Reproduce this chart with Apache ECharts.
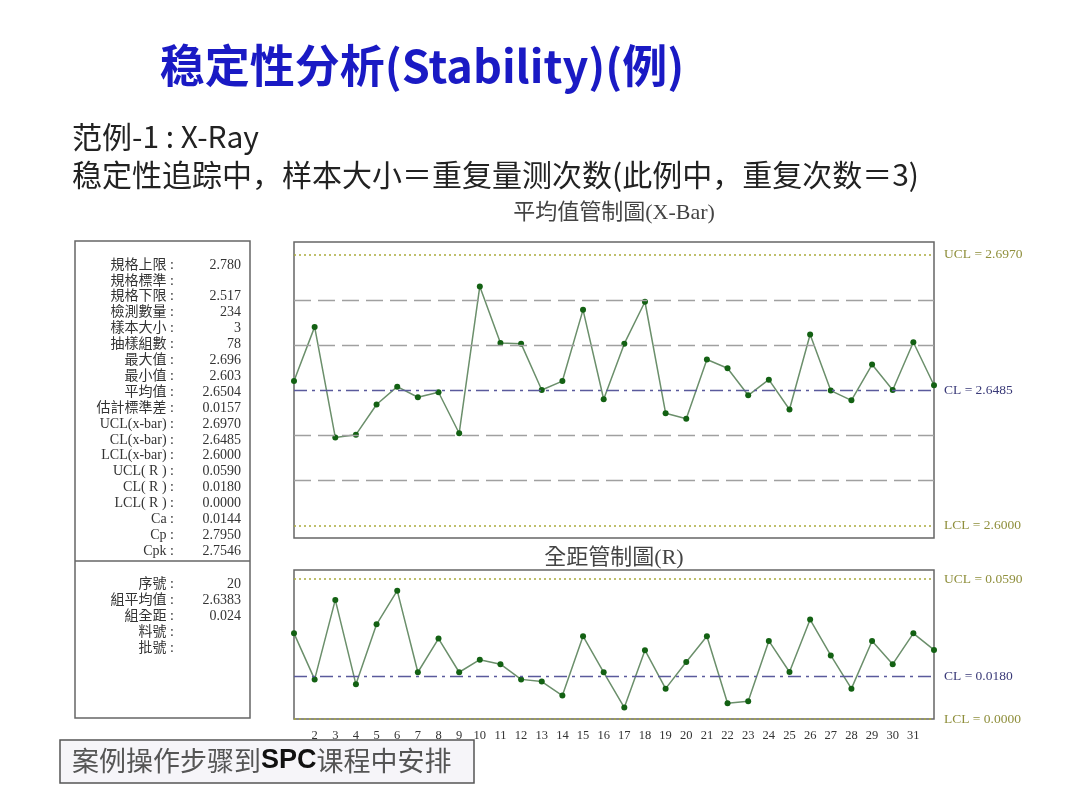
<!DOCTYPE html>
<html>
<head>
<meta charset="utf-8">
<script src="https://cdn.jsdelivr.net/npm/echarts@6/dist/echarts.min.js"></script>
<style>
  html, body { margin: 0; padding: 0; background: #fff; }
  #main { width: 1080px; height: 810px; }
</style>
</head>
<body>
<div id="main"></div>
<script>
// group numbers shown on the x axis (1 and 32 sit on the plot edges)
var groupNo = [1, 2, 3, 4, 5, 6, 7, 8, 9, 10, 11, 12, 13, 14, 15, 16,
  17, 18, 19, 20, 21, 22, 23, 24, 25, 26, 27, 28, 29, 30, 31, 32];

// group means (X-Bar)
var xbarValues = [2.6518, 2.6712, 2.6316, 2.6326, 2.6434, 2.6498, 2.6460, 2.6478,
  2.6331, 2.6857, 2.6654, 2.6652, 2.6486, 2.6518, 2.6773, 2.6453,
  2.6652, 2.6802, 2.6403, 2.6383, 2.6595, 2.6564, 2.6467, 2.6523,
  2.6416, 2.6685, 2.6484, 2.6449, 2.6577, 2.6486, 2.6657, 2.6503];

// group ranges (R)
var rangeValues = [0.0361, 0.0167, 0.0502, 0.0146, 0.0399, 0.0541, 0.0197, 0.0339,
  0.0197, 0.0250, 0.0231, 0.0167, 0.0158, 0.0099, 0.0349, 0.0197,
  0.0048, 0.0290, 0.0128, 0.0240, 0.0349, 0.0066, 0.0075, 0.0329,
  0.0198, 0.0419, 0.0268, 0.0128, 0.0329, 0.0231, 0.0361, 0.0291];

// control limits: [UCL, CL, LCL]
var xbarLimits = [2.6970, 2.6485, 2.6000];
var rangeLimits = [0.0590, 0.0180, 0.0000];
// 1 and 2 sigma zone lines of the X-Bar chart
var xbarZones = [2.6808, 2.6647, 2.6323, 2.6162];

// left statistics panel
var statLabels = ['規格上限', '規格標準', '規格下限', '檢測數量', '樣本大小', '抽樣組數', '最大值', '最小值',
  '平均值', '估計標準差', 'UCL(x-bar)', 'CL(x-bar)', 'LCL(x-bar)', 'UCL( R )', 'CL( R )', 'LCL( R )',
  'Ca', 'Cp', 'Cpk'];
var statValues = ['2.780', '', '2.517', '234', '3', '78', '2.696', '2.603',
  '2.6504', '0.0157', '2.6970', '2.6485', '2.6000', '0.0590', '0.0180', '0.0000',
  '0.0144', '2.7950', '2.7546'];
var pointLabels = ['序號', '組平均值', '組全距', '料號', '批號'];
var pointValues = ['20', '2.6383', '0.024', '', ''];

var serif = '"Liberation Serif", "Noto Sans CJK TC", serif';
var sans = '"Noto Sans CJK SC", "Noto Sans", sans-serif';

var chart = echarts.init(document.getElementById('main'));

function toPairs(vals) {
  return groupNo.map(function (g, i) { return [g, vals[i]]; });
}

function limitLines(limits, labels, zones) {
  var out = [];
  var limColor = '#aaaa3c', clColor = '#5a5a9c';
  out.push({ yAxis: limits[0], lineStyle: { color: limColor, type: [2, 3], width: 1.5 },
    label: { show: true, formatter: labels[0] + ' = ' + limits[0].toFixed(4), color: '#8f8f3c' } });
  out.push({ yAxis: limits[1], lineStyle: { color: clColor, type: [13, 5, 3, 5], width: 1.3 },
    label: { show: true, formatter: labels[1] + ' = ' + limits[1].toFixed(4), color: '#3a3a78' } });
  out.push({ yAxis: limits[2], lineStyle: { color: limColor, type: [2, 3], width: 1.5 },
    label: { show: true, formatter: labels[2] + ' = ' + limits[2].toFixed(4), color: '#8f8f3c' } });
  (zones || []).forEach(function (z) {
    out.push({ yAxis: z, lineStyle: { color: '#a0a0a0', type: [17, 7], width: 1.4 }, label: { show: false } });
  });
  return out;
}

// panel texts
var panelFont = '14px ' + serif;
var panelTexts = [];
statLabels.forEach(function (t, i) {
  panelTexts.push({ type: 'text', style: { x: 174, y: 265 + i * 15.9, text: t + ' :', align: 'right',
    verticalAlign: 'middle', font: panelFont, fill: '#333' } });
  panelTexts.push({ type: 'text', style: { x: 241, y: 265 + i * 15.9, text: statValues[i], align: 'right',
    verticalAlign: 'middle', font: panelFont, fill: '#333' } });
});
pointLabels.forEach(function (t, i) {
  panelTexts.push({ type: 'text', style: { x: 174, y: 584 + i * 16, text: t + ' :', align: 'right',
    verticalAlign: 'middle', font: panelFont, fill: '#333' } });
  panelTexts.push({ type: 'text', style: { x: 241, y: 584 + i * 16, text: pointValues[i], align: 'right',
    verticalAlign: 'middle', font: panelFont, fill: '#333' } });
});

var option = {
  backgroundColor: '#fff',
  animation: false,
  graphic: [
    { type: 'text', style: { x: 422, y: 66, text: '稳定性分析(Stability)(例)', align: 'center',
      verticalAlign: 'middle', font: 'bold 45px ' + sans, fill: '#1a1ac4' } },
    { type: 'text', style: { x: 72, y: 137, text: '范例-1 : X-Ray', align: 'left',
      verticalAlign: 'middle', font: '30px ' + sans, fill: '#222' } },
    { type: 'text', style: { x: 72, y: 175, text: '稳定性追踪中，样本大小＝重复量测次数(此例中，重复次数＝3)', align: 'left',
      verticalAlign: 'middle', font: '30px ' + sans, fill: '#222' } },
    { type: 'text', style: { x: 614, y: 213, text: '平均值管制圖(X-Bar)', align: 'center',
      verticalAlign: 'middle', font: '22px ' + serif, fill: '#444' } },
    { type: 'text', style: { x: 614, y: 558, text: '全距管制圖(R)', align: 'center',
      verticalAlign: 'middle', font: '22px ' + serif, fill: '#444' } },
    { type: 'rect', shape: { x: 75, y: 241, width: 175, height: 477 },
      style: { fill: '#fff', stroke: '#666', lineWidth: 1.5 } },
    { type: 'line', shape: { x1: 75, y1: 561, x2: 250, y2: 561 }, style: { stroke: '#666', lineWidth: 1.5 } },
    { type: 'group', children: panelTexts },
    { type: 'rect', shape: { x: 60, y: 740, width: 414, height: 43 },
      style: { fill: '#f6f5f9', stroke: '#555', lineWidth: 1.5 } },
    { type: 'text', style: { x: 72, y: 761, verticalAlign: 'middle',
      text: '{n|案例操作步骤到}{b|SPC}{n|课程中安排}',
      rich: {
        n: { font: '27px ' + sans, fill: '#555' },
        b: { font: 'bold 27px "Liberation Sans", Arial, sans-serif', fill: '#111' }
      } } }
  ],
  grid: [
    { left: 294, top: 242, width: 640, height: 296, show: true, borderColor: '#666', borderWidth: 1.5, backgroundColor: '#fff' },
    { left: 294, top: 570, width: 640, height: 149, show: true, borderColor: '#666', borderWidth: 1.5, backgroundColor: '#fff' }
  ],
  xAxis: [
    { type: 'value', gridIndex: 0, min: 1, max: 32, interval: 1,
      axisLine: { show: false }, axisTick: { show: false }, axisLabel: { show: false }, splitLine: { show: false } },
    { type: 'value', gridIndex: 1, min: 1, max: 32, interval: 1,
      axisLine: { show: false }, axisTick: { show: false }, splitLine: { show: false },
      axisLabel: { show: true, showMinLabel: false, showMaxLabel: false, margin: 10,
        fontFamily: serif, fontSize: 12.5, color: '#333' } }
  ],
  yAxis: [
    { type: 'value', gridIndex: 0, min: 2.5956, max: 2.7016, show: false, splitLine: { show: false } },
    { type: 'value', gridIndex: 1, min: 0, max: 0.0628, show: false, splitLine: { show: false } }
  ],
  series: [
    { type: 'line', xAxisIndex: 0, yAxisIndex: 0, data: [], z: 1, silent: true,
      markLine: { symbol: 'none', silent: true, precision: 6,
        label: { position: 'end', distance: 10, fontFamily: serif, fontSize: 13.5 },
        data: limitLines(xbarLimits, ['UCL', 'CL', 'LCL'], xbarZones) } },
    { type: 'line', xAxisIndex: 1, yAxisIndex: 1, data: [], z: 1, silent: true,
      markLine: { symbol: 'none', silent: true, precision: 6,
        label: { position: 'end', distance: 10, fontFamily: serif, fontSize: 13.5 },
        data: limitLines(rangeLimits, ['UCL', 'CL', 'LCL']) } },
    { name: 'X-Bar', type: 'line', xAxisIndex: 0, yAxisIndex: 0, z: 3,
      data: toPairs(xbarValues), symbol: 'circle', symbolSize: 6,
      lineStyle: { color: '#6b8f6b', width: 1.5 }, itemStyle: { color: '#136113' } },
    { name: 'R', type: 'line', xAxisIndex: 1, yAxisIndex: 1, z: 3,
      data: toPairs(rangeValues), symbol: 'circle', symbolSize: 6,
      lineStyle: { color: '#6b8f6b', width: 1.5 }, itemStyle: { color: '#136113' } }
  ]
};

chart.setOption(option);
</script>
</body>
</html>
